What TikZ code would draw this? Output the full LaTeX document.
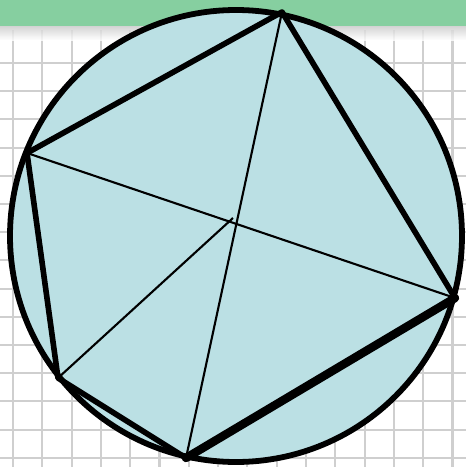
\documentclass[tikz,border=0pt]{standalone}
\usepackage{tikz}
\usetikzlibrary{positioning}
\definecolor{paperband}{HTML}{86CFA0}
\definecolor{gridgray}{HTML}{CFCFCF}
\definecolor{discfill}{HTML}{BBE0E4}
\begin{document}
\begin{tikzpicture}[
x=0.02cm,y=-0.02cm,
gridline/.style={draw=gridgray,line width=1.2pt},
rim/.style={draw=black,line width=3.3pt},
edge/.style={line width=3.2pt,line join=round,line cap=round},
heavyedge/.style={line width=4.8pt,line cap=round},
chord/.style={line width=1.2pt}
]
\useasboundingbox (0,0) rectangle (466,467);

% PAPER
\fill[white] (0,0) rectangle (466,467);
\foreach \i in {0,...,15}
  \draw[gridline] (13+29.3*\i,30) -- (13+29.3*\i,467);
\foreach \j in {0,...,14}
  \draw[gridline] (0,63+28.2*\j) -- (466,63+28.2*\j);
\shade[top color=gray!45,bottom color=white,opacity=0.8] (0,25) rectangle (466,40);
\fill[paperband] (0,0) rectangle (466,26);

% DISC
\coordinate (o) at (236,236);
\filldraw[rim,fill=discfill] (o) circle [radius=226];

% PENTAGON
\coordinate (top) at (282,12);
\coordinate (right) at (455,298);
\coordinate (bottom) at (186,458);
\coordinate (lowleft) at (58,378);
\coordinate (left) at (27,153);
\coordinate (mid) at (233,218);

% CHORDS
\draw[chord] (top) -- (bottom);
\draw[chord] (left) -- (right);
\draw[chord] (lowleft) -- (mid);

% EDGES
\draw[edge] (left) -- (top) -- (right);
\draw[edge] (bottom) -- (lowleft) -- (left);
\draw[heavyedge] (bottom) -- (right);

\end{tikzpicture}
\end{document}
